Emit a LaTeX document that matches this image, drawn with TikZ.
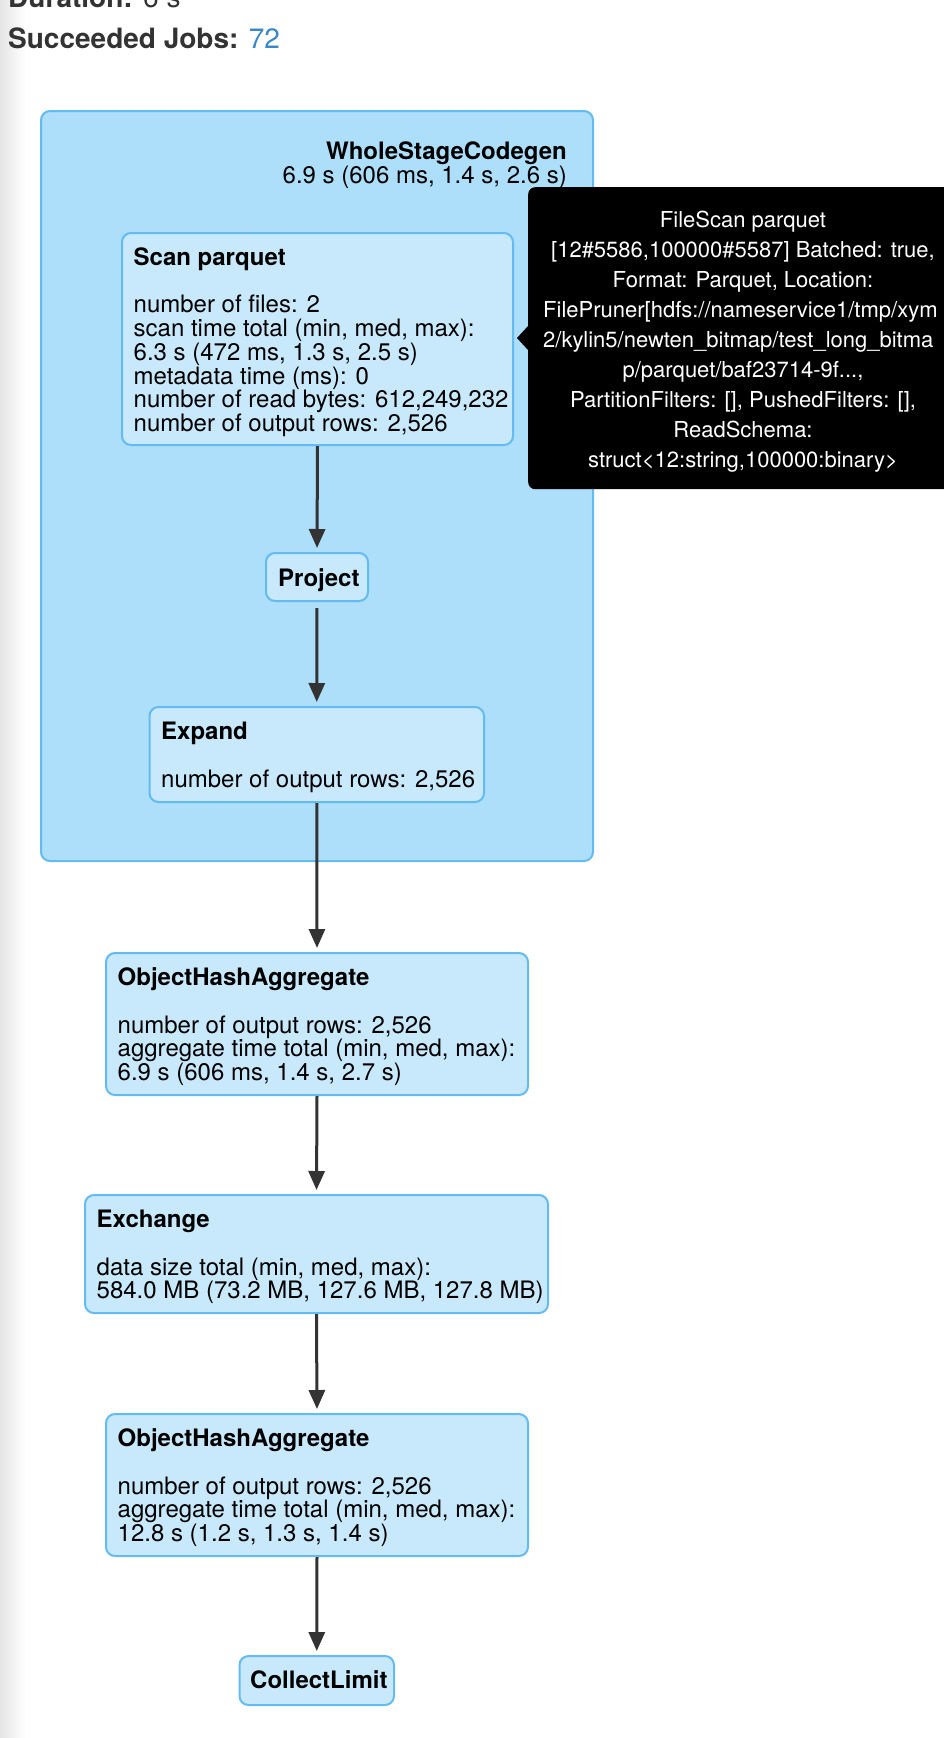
\documentclass[tikz,border=0pt]{standalone}
\usepackage{fontspec}
\setmainfont{TeX Gyre Heros}
\usetikzlibrary{arrows.meta}
\usetikzlibrary{calc}

\definecolor{clusterfill}{RGB}{173,222,250}
\definecolor{opfill}{RGB}{200,233,252}
\definecolor{opline}{RGB}{100,187,242}
\definecolor{edgegray}{RGB}{51,51,51}
\definecolor{headgray}{RGB}{51,51,51}
\definecolor{jobblue}{RGB}{58,135,200}

\tikzset{
  cluster/.style={draw=opline, fill=clusterfill, line width=2pt, rounded corners=9pt, anchor=north west, inner sep=0pt},
  opbox/.style={draw=opline, fill=opfill, line width=2pt, rounded corners=9pt, anchor=north west, inner sep=0pt},
  optitle/.style={anchor=base west, inner sep=0pt, font=\fontsize{24}{23.7}\selectfont\bfseries},
  opmetric/.style={anchor=base west, inner sep=0pt, font=\fontsize{24}{23.7}\selectfont},
  flow/.style={draw=edgegray, line width=3pt, -{Triangle[length=19pt,width=16pt]}, shorten >=4pt},
  tipbox/.style={fill=black, rounded corners=7pt, anchor=north west, inner sep=0pt},
  tiptext/.style={text=white, inner sep=0pt, font=\fontsize{22}{30}\selectfont},
  headline/.style={anchor=base west, inner sep=0pt, text=headgray, font=\fontsize{28}{40}\selectfont}
}

\begin{document}
\begin{tikzpicture}[x=1pt,y=-1pt]
\useasboundingbox (0,0) rectangle (944,1738);
\clip (0,0) rectangle (944,1738);
\shade[left color=black!10, right color=white] (0,0) rectangle (26,1738);
% page header
\node[headline] (duration) at (8,7) {\textbf{Duration:} 6 s};
\node[headline] (jobs) at (8,48) {\textbf{Succeeded Jobs:} \textcolor{jobblue}{72}};

% whole stage codegen cluster
\node[cluster, minimum width=552pt, minimum height=750pt] (wscg) at (40,110) {};
\node[optitle, anchor=base east] (wscgtitle) at (567,159) {WholeStageCodegen};
\node[opmetric, anchor=base east] (wscgtime) at (567,183) {6.9 s (606 ms, 1.4 s, 2.6 s)};

% operators
\node[opbox, minimum width=391pt, minimum height=212pt] (scan) at (121,232) {};
\node[optitle] (scantitle) at (133.5,265.5) {Scan parquet};
\foreach \m [count=\i from 0] in {{number of files: 2},{scan time total (min, med, max):},{6.3 s (472 ms, 1.3 s, 2.5 s)},{metadata time (ms): 0},{number of read bytes: 612,249,232},{number of output rows: 2,526}}
  \node[opmetric] (scanm\i) at (133.5,{312.9+23.7*\i}) {\m};

\node[opbox, minimum width=102pt, minimum height=48pt] (project) at (265,552) {};
\node[optitle] (projecttitle) at (278,586) {Project};

\node[opbox, minimum width=334.5pt, minimum height=95pt] (expand) at (148.5,706) {};
\node[optitle] (expandtitle) at (161,739.5) {Expand};
\node[opmetric] (expandm0) at (161,787) {number of output rows: 2,526};

\node[opbox, minimum width=422pt, minimum height=142pt] (aggone) at (105,952) {};
\node[optitle] (aggonetitle) at (117.5,985.5) {ObjectHashAggregate};
\foreach \m [count=\i from 0] in {{number of output rows: 2,526},{aggregate time total (min, med, max):},{6.9 s (606 ms, 1.4 s, 2.7 s)}}
  \node[opmetric] (aggonem\i) at (117.5,{1033+23.7*\i}) {\m};

\node[opbox, minimum width=463pt, minimum height=118pt] (exchange) at (84,1194) {};
\node[optitle] (exchangetitle) at (96.5,1227.5) {Exchange};
\foreach \m [count=\i from 0] in {{data size total (min, med, max):},{584.0 MB (73.2 MB, 127.6 MB, 127.8 MB)}}
  \node[opmetric] (exchangem\i) at (96.5,{1275+23.7*\i}) {\m};

\node[opbox, minimum width=422pt, minimum height=142pt] (aggtwo) at (105,1413) {};
\node[optitle] (aggtwotitle) at (117.5,1446.5) {ObjectHashAggregate};
\foreach \m [count=\i from 0] in {{number of output rows: 2,526},{aggregate time total (min, med, max):},{12.8 s (1.2 s, 1.3 s, 1.4 s)}}
  \node[opmetric] (aggtwom\i) at (117.5,{1494+23.7*\i}) {\m};

\node[opbox, minimum width=154.5pt, minimum height=49pt] (collect) at (238.5,1655) {};
\node[optitle] (collecttitle) at (250,1688) {CollectLimit};

% edges
\draw[flow] (scan.south) -- (project.north);
\draw[flow, shorten <=6pt] (project.south) -- (expand.north);
\draw[flow] (expand.south) -- (aggone.north);
\draw[flow] (aggone.south) -- (exchange.north);
\draw[flow] (exchange.south) -- (aggtwo.north);
\draw[flow] (aggtwo.south) -- (collect.north);

% tooltip of the scan node
\node[tipbox, minimum width=432pt, minimum height=302pt] (tip) at (528,187) {};
\fill[black] ($(tip.north west)+(0,139)$) -- ++(-11,12) -- ++(11,12) -- cycle;
\foreach \t [count=\i from 0] in {{FileScan parquet},{[12\#5586,100000\#5587] Batched: true,},{Format: Parquet, Location:}}
  \node[tiptext, anchor=base] (tipa\i) at (743,{227+30*\i}) {\t};
\foreach \t [count=\i from 0] in {{FilePruner[hdfs://nameservice1/tmp/xym},{2/kylin5/newten\_bitmap/test\_long\_bitma}}
  \node[tiptext, anchor=base west] (tipb\i) at (543,{317+30*\i}) {\t};
\node[tiptext, anchor=base] (tipc0) at (743,377) {p/parquet/baf23714-9f...,};
\foreach \t [count=\i from 1] in {{PartitionFilters: [], PushedFilters: [],},{ReadSchema:},{struct<12:string,100000:binary>}}
  \node[tiptext, anchor=base] (tipc\i) at (743,{377+30*\i}) {\t};
\end{tikzpicture}
\end{document}
